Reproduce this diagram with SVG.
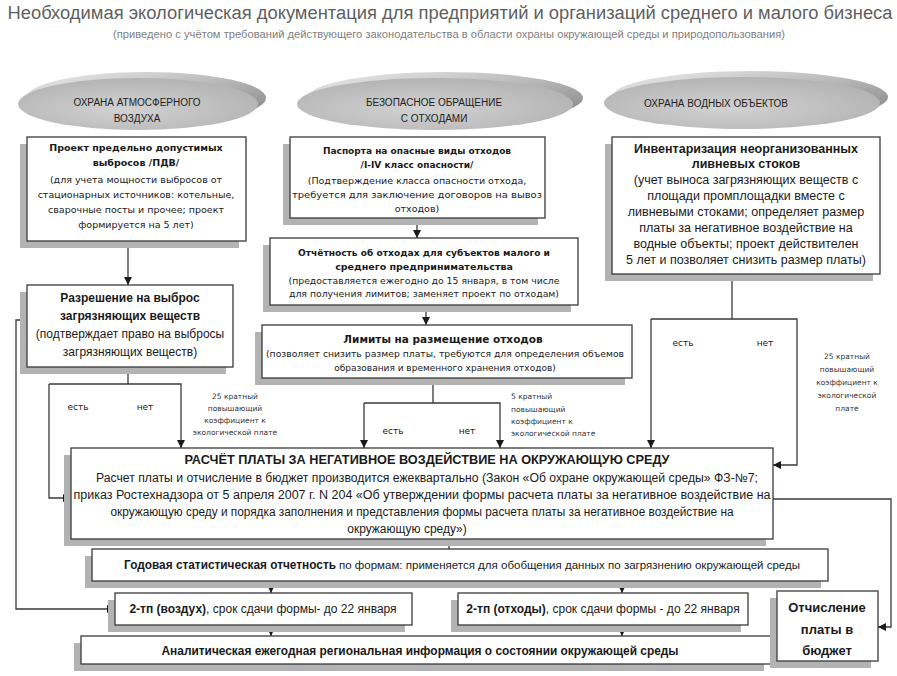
<svg xmlns="http://www.w3.org/2000/svg" width="897" height="676" viewBox="0 0 897 676">
<defs>
<linearGradient id="rim" x1="0" y1="0" x2="1" y2="1">
<stop offset="0" stop-color="#eeeeee"/>
<stop offset="0.5" stop-color="#b8b8b8"/>
<stop offset="1" stop-color="#7d7d7d"/>
</linearGradient>
<radialGradient id="face" cx="0.45" cy="0.6" r="0.6">
<stop offset="0" stop-color="#d2d2d2"/>
<stop offset="1" stop-color="#b4b4b4"/>
</radialGradient>
<marker id="arr" markerUnits="userSpaceOnUse" markerWidth="8" markerHeight="8" refX="8" refY="4" orient="auto">
<path d="M0,0 L8,4 L0,8 z" fill="#1a1a1a"/>
</marker>
</defs>
<style>
.box{fill:#fff;stroke:#3a3a3a;stroke-width:1.3}
.sh{fill:#b3b3b3}
.ln{fill:none;stroke:#3a3a3a;stroke-width:1.3}
.ar{fill:none;stroke:#3a3a3a;stroke-width:1.3;marker-end:url(#arr)}
.v{font-family:"DejaVu Sans",Verdana,sans-serif;fill:#1a1a1a;text-anchor:middle}
.c{font-family:"Liberation Sans",Arial,sans-serif;fill:#1a1a1a;text-anchor:middle}
.b{font-weight:bold}
.sm{font-family:"DejaVu Sans",Verdana,sans-serif;fill:#333;font-size:7.5px;text-anchor:middle}
.ov{font-family:"Liberation Sans",Arial,sans-serif;fill:#222;font-size:10px;text-anchor:middle}
.st{text-anchor:start}
</style>
<rect width="897" height="676" fill="#fff"/>
<text x="450" y="19" font-family="Liberation Sans, Arial, sans-serif" font-size="18" fill="#5f5f5f" text-anchor="middle" textLength="885" lengthAdjust="spacingAndGlyphs">Необходимая экологическая документация для предприятий и организаций среднего и малого бизнеса</text>
<text x="449" y="38" font-family="Liberation Sans, Arial, sans-serif" font-size="10" fill="#808080" text-anchor="middle" textLength="672" lengthAdjust="spacingAndGlyphs">(приведено с учётом требований действующего законодательства в области охраны окружающей среды и природопользования)</text>

<g id="oval-air">
<ellipse cx="146" cy="98" rx="120" ry="26" fill="url(#rim)"/>
<ellipse cx="138" cy="104" rx="120" ry="26" fill="url(#face)"/>
<text class="ov" x="137" y="106">ОХРАНА АТМОСФЕРНОГО</text>
<text class="ov" x="137" y="122">ВОЗДУХА</text>
</g>
<g id="oval-waste">
<ellipse cx="445" cy="98" rx="138" ry="26" fill="url(#rim)"/>
<ellipse cx="435" cy="104" rx="138" ry="26" fill="url(#face)"/>
<text class="ov" x="434" y="106">БЕЗОПАСНОЕ ОБРАЩЕНИЕ</text>
<text class="ov" x="434" y="122">С ОТХОДАМИ</text>
</g>
<g id="oval-water">
<ellipse cx="750" cy="97" rx="138" ry="26" fill="url(#rim)"/>
<ellipse cx="742" cy="103" rx="138" ry="26" fill="url(#face)"/>
<text class="ov" x="716" y="107">ОХРАНА ВОДНЫХ ОБЪЕКТОВ</text>
</g>

<g id="connectors">
<line class="ar" x1="128" y1="241" x2="128" y2="285"/>
<polyline class="ln" points="128,367 128,384"/>
<polyline class="ar" points="49,384 181,384 181,448"/>
<polyline class="ar" points="49,384 49,498 71,498"/>
<polyline class="ar" points="27,320 16,320 16,609 115,609"/>
<line class="ar" x1="417" y1="218" x2="417" y2="238"/>
<line class="ar" x1="426" y1="305" x2="426" y2="325"/>
<line class="ln" x1="433" y1="378" x2="433" y2="403"/>
<polyline class="ar" points="364,403 364,448"/>
<polyline class="ar" points="364,403 500,403 500,448"/>
<line class="ln" x1="732" y1="274" x2="732" y2="319"/>
<polyline class="ar" points="651,319 651,448"/>
<polyline class="ar" points="651,319 797,319 797,465 773,465"/>
<polyline class="ar" points="773,499 891,499 891,627 878,627"/>
<line class="ln" x1="449" y1="539" x2="449" y2="549"/>
<line class="ar" x1="271" y1="581" x2="271" y2="593"/>
<line class="ar" x1="622" y1="581" x2="622" y2="593"/>
<line class="ar" x1="271" y1="625" x2="271" y2="636"/>
<line class="ar" x1="622" y1="625" x2="622" y2="636"/>
<text class="v" font-size="9" x="78" y="410">есть</text>
<text class="v" font-size="9" x="145" y="410">нет</text>
<text class="sm" x="235" y="399">25 кратный</text>
<text class="sm" x="235" y="411">повышающий</text>
<text class="sm" x="235" y="423">коэффициент к</text>
<text class="sm" x="235" y="435">экологической плате</text>
<text class="v" font-size="9" x="393" y="434">есть</text>
<text class="v" font-size="9" x="467" y="434">нет</text>
<text class="sm st" x="511" y="399">5 кратный</text>
<text class="sm st" x="511" y="412">повышающий</text>
<text class="sm st" x="511" y="424">коэффициент к</text>
<text class="sm st" x="511" y="436">экологической плате</text>
<text class="v" font-size="9" x="683" y="346">есть</text>
<text class="v" font-size="9" x="765" y="346">нет</text>
<text class="sm" x="847" y="359">25 кратный</text>
<text class="sm" x="847" y="372">повышающий</text>
<text class="sm" x="847" y="385">коэффициент к</text>
<text class="sm" x="847" y="398">экологической</text>
<text class="sm" x="847" y="411">плате</text>
</g>

<g id="pdv">
<rect class="sh" x="20" y="144" width="219" height="104"/>
<rect class="box" x="27" y="137" width="219" height="104"/>
<text class="v b" font-size="9.5" x="136" y="151">Проект предельно допустимых</text>
<text class="v b" font-size="9.5" x="136" y="166">выбросов  /ПДВ/</text>
<text class="v" font-size="9.5" x="136" y="183">(для учета мощности выбросов от</text>
<text class="v" font-size="9.5" x="136" y="198">стационарных источников: котельные,</text>
<text class="v" font-size="9.5" x="136" y="213">сварочные посты и прочее; проект</text>
<text class="v" font-size="9.5" x="136" y="228">формируется на 5 лет)</text>
</g>
<g id="permit">
<rect class="sh" x="20" y="292" width="206" height="82"/>
<rect class="box" x="27" y="285" width="206" height="82"/>
<text class="c b" font-size="12" x="130" y="302">Разрешение на выброс</text>
<text class="c b" font-size="12" x="130" y="320">загрязняющих веществ</text>
<text class="c" font-size="12" x="130" y="338">(подтверждает право на выбросы</text>
<text class="c" font-size="12" x="130" y="356">загрязняющих веществ)</text>
</g>
<g id="passport">
<rect class="sh" x="283" y="144" width="255" height="81"/>
<rect class="box" x="290" y="137" width="255" height="81"/>
<text class="v b" font-size="9" x="417" y="154">Паспорта на опасные виды отходов</text>
<text class="v b" font-size="9" x="417" y="168">/I-IV класс опасности/</text>
<text class="v" font-size="9.5" x="417" y="184">(Подтверждение класса опасности отхода,</text>
<text class="v" font-size="9.5" x="417" y="198" textLength="250" lengthAdjust="spacingAndGlyphs">требуется для заключение договоров на вывоз</text>
<text class="v" font-size="9.5" x="417" y="212">отходов)</text>
</g>
<g id="waste-report">
<rect class="sh" x="263" y="245" width="308" height="67"/>
<rect class="box" x="270" y="238" width="308" height="67"/>
<text class="v b" font-size="9.5" x="424" y="256" textLength="252" lengthAdjust="spacingAndGlyphs">Отчётность об отходах для субъектов малого и</text>
<text class="v b" font-size="9.5" x="424" y="270">среднего предпринимательства</text>
<text class="v" font-size="9.3" x="424" y="284">(предоставляется ежегодно до 15 января, в том числе</text>
<text class="v" font-size="9.3" x="424" y="297">для получения лимитов; заменяет проект по отходам)</text>
</g>
<g id="limits">
<rect class="sh" x="255" y="332" width="370" height="53"/>
<rect class="box" x="262" y="325" width="370" height="53"/>
<text class="v b" font-size="10.5" x="443" y="343">Лимиты на размещение отходов</text>
<text class="v" font-size="9" x="445" y="357" textLength="358" lengthAdjust="spacingAndGlyphs">(позволяет снизить размер платы, требуются для определения объемов</text>
<text class="v" font-size="9" x="445" y="371">образования и временного хранения отходов)</text>
</g>
<g id="inventory">
<rect class="sh" x="605" y="144" width="268" height="137"/>
<rect class="box" x="612" y="137" width="268" height="137"/>
<text class="c b" font-size="12.5" x="746" y="153">Инвентаризация неорганизованных</text>
<text class="c b" font-size="12.5" x="746" y="168">ливневых стоков</text>
<text class="c" font-size="12.5" x="746" y="184">(учет выноса загрязняющих веществ с</text>
<text class="c" font-size="12.5" x="746" y="200">площади промплощадки вместе с</text>
<text class="c" font-size="12.5" x="746" y="216">ливневыми стоками; определяет размер</text>
<text class="c" font-size="12.5" x="746" y="232">платы за негативное воздействие на</text>
<text class="c" font-size="12.5" x="746" y="248">водные объекты; проект  действителен</text>
<text class="c" font-size="12.5" x="746" y="264">5 лет и позволяет снизить размер платы)</text>
</g>
<g id="payment">
<rect class="sh" x="64" y="455" width="702" height="91"/>
<rect class="box" x="71" y="448" width="702" height="91"/>
<text class="c b" font-size="13" x="427" y="464" textLength="485" lengthAdjust="spacingAndGlyphs">РАСЧЁТ ПЛАТЫ ЗА НЕГАТИВНОЕ ВОЗДЕЙСТВИЕ НА ОКРУЖАЮЩУЮ СРЕДУ</text>
<text class="c" font-size="12" x="427" y="482" textLength="662" lengthAdjust="spacingAndGlyphs">Расчет платы и отчисление в бюджет производится ежеквартально (Закон «Об охране окружающей среды» ФЗ-№7;</text>
<text class="c" font-size="12" x="422" y="499" textLength="697" lengthAdjust="spacingAndGlyphs">приказ Ростехнадзора от 5 апреля 2007 г. N 204  «Об утверждении формы расчета платы за негативное воздействие на</text>
<text class="c" font-size="12" x="422" y="516" textLength="623" lengthAdjust="spacingAndGlyphs">окружающую среду и порядка заполнения и представления формы расчета платы за негативное воздействие на</text>
<text class="c" font-size="12" x="407" y="533">окружающую среду»)</text>
</g>
<g id="annual">
<rect class="sh" x="85" y="556" width="736" height="32"/>
<rect class="box" x="92" y="549" width="736" height="32"/>
<text class="c b st" font-size="12" x="124" y="569" textLength="212" lengthAdjust="spacingAndGlyphs">Годовая статистическая отчетность</text>
<text class="c st" font-size="11" x="339" y="569" textLength="461" lengthAdjust="spacingAndGlyphs">по формам: применяется для обобщения данных по загрязнению окружающей среды</text>
</g>
<g id="tp-air">
<rect class="sh" x="108" y="600" width="297" height="32"/>
<rect class="box" x="115" y="593" width="297" height="32"/>
<text class="c" font-size="12" x="263" y="613"><tspan font-weight="bold">2-тп (воздух)</tspan>, срок сдачи формы- до 22 января</text>
</g>
<g id="tp-waste">
<rect class="sh" x="451" y="600" width="290" height="32"/>
<rect class="box" x="458" y="593" width="290" height="32"/>
<text class="c" font-size="12" x="603" y="613"><tspan font-weight="bold">2-тп (отходы)</tspan>, срок сдачи формы - до 22 января</text>
</g>
<g id="analytics">
<rect class="sh" x="74" y="643" width="690" height="28"/>
<rect class="box" x="81" y="636" width="690" height="28"/>
<text class="c b" font-size="12" x="420" y="655" textLength="517" lengthAdjust="spacingAndGlyphs">Аналитическая ежегодная региональная информация о состоянии окружающей среды</text>
</g>
<g id="budget">
<rect class="sh" x="770" y="598" width="101" height="70"/>
<rect class="box" x="777" y="591" width="101" height="70"/>
<text class="c b" font-size="13" x="827" y="612">Отчисление</text>
<text class="c b" font-size="13" x="827" y="634">платы в</text>
<text class="c b" font-size="13" x="827" y="655">бюджет</text>
</g>
</svg>
